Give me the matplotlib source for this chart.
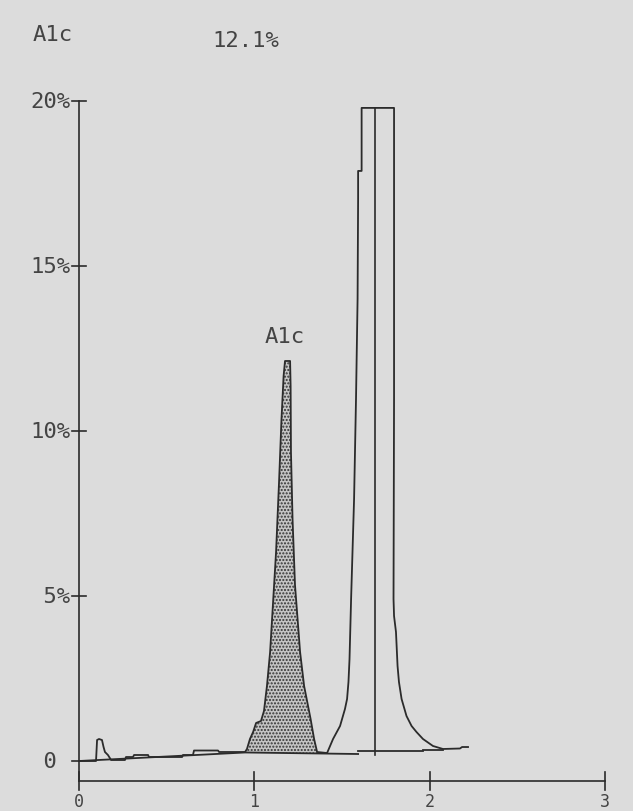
import matplotlib
matplotlib.use("Agg")
import matplotlib.pyplot as plt
import numpy as np

# Chromatogram: time (min) vs percent of full scale
sig_t = np.array([0.0, 0.097, 0.103, 0.114, 0.131, 0.140, 0.148, 0.165, 0.183, 0.262,
                  0.268, 0.308, 0.314, 0.394, 0.399, 0.588, 0.593, 0.650, 0.656, 0.793,
                  0.799, 0.947, 0.958, 0.975, 0.993, 1.010, 1.038, 1.055, 1.072, 1.090,
                  1.107, 1.124, 1.132, 1.141, 1.155, 1.167, 1.175, 1.204, 1.207, 1.209,
                  1.218, 1.232, 1.261, 1.284, 1.321, 1.341, 1.358, 1.415, 1.449, 1.489,
                  1.517, 1.529, 1.537, 1.543, 1.552, 1.569, 1.580, 1.589, 1.592, 1.592,
                  1.612, 1.612, 1.797, 1.797, 1.794, 1.797, 1.808, 1.817, 1.825, 1.840,
                  1.868, 1.897, 1.925, 1.962, 2.019, 2.076, 2.173, 2.185, 2.219])
sig_pct = np.array([0.0, 0.0, 0.636, 0.667, 0.636, 0.424, 0.273, 0.182, 0.03, 0.03,
                    0.121, 0.121, 0.182, 0.182, 0.121, 0.121, 0.182, 0.182, 0.318, 0.318,
                    0.273, 0.273, 0.364, 0.667, 0.879, 1.152, 1.212, 1.515, 2.273, 3.303,
                    4.818, 6.333, 7.333, 8.455, 10.364, 11.667, 12.121, 12.121, 11.364, 9.364,
                    7.333, 5.333, 3.303, 2.273, 1.273, 0.667, 0.273, 0.242, 0.667, 1.061,
                    1.576, 1.879, 2.394, 3.091, 4.909, 7.939, 10.970, 14.0, 17.03, 17.88,
                    17.88, 19.79, 19.79, 11.0, 4.909, 4.394, 3.909, 2.879, 2.394, 1.879,
                    1.364, 1.061, 0.879, 0.667, 0.455, 0.364, 0.379, 0.424, 0.424])

# integration baseline segments
base_t = [[0.0, 0.947, 1.592], [1.592, 1.962], [1.962, 2.076]]
base_pct = [[0.0, 0.258, 0.212], [0.288, 0.288], [0.348, 0.348]]

a1c_start, a1c_end = 0.947, 1.358   # shaded A1c peak
marker_t = 1.69                     # retention marker of main peak
marker_pct = [0.18, 19.79]

yticks = [0, 5, 10, 15, 20]
ytick_labels = [" 0", " 5%", "10%", "15%", "20%"]
xticks = [0, 1, 2, 3]
xtick_labels = ["0", "1", "2", "3"]
xaxis_pct = -0.6

ink = '#2b2b2b'
txt = '#444444'
mono = 'DejaVu Sans Mono'

fig = plt.figure(figsize=(6.33, 8.12), dpi=100, facecolor='#dcdcdc')
ax = fig.add_axes([0, 0, 1, 1])
ax.set_facecolor('#dcdcdc')
ax.set_xlim(-0.4507, 3.160)
ax.set_ylim(-1.515, 23.09)
ax.axis('off')

# axes as printed
ax.plot([0, 0], [xaxis_pct, yticks[-1]], color=ink, lw=1.2)
ax.plot([xticks[0], xticks[-1]], [xaxis_pct, xaxis_pct], color=ink, lw=1.2)
for v, lab in zip(yticks, ytick_labels):
    ax.plot([-0.04, 0.0 if v == 0 else 0.04], [v, v], color=ink, lw=1.2)
    ax.text(-0.28, v, lab, family=mono, fontsize=16, color=txt, ha='left', va='center')
for v, lab in zip(xticks, xtick_labels):
    ax.plot([v, v], [xaxis_pct - 0.27, xaxis_pct + 0.27], color=ink, lw=1.2)
    ax.text(v, -0.93, lab, family=mono, fontsize=12, color=txt, ha='center', va='top')

# chromatogram trace
ax.plot(sig_t, sig_pct, color=ink, lw=1.3)
for bt, bp in zip(base_t, base_pct):
    ax.plot(bt, bp, color=ink, lw=1.3)
ax.plot([marker_t, marker_t], marker_pct, color=ink, lw=1.2)

# stippled A1c area
m = (sig_t >= a1c_start) & (sig_t <= a1c_end)
base_under = np.interp(sig_t[m], base_t[0], base_pct[0])
ax.fill_between(sig_t[m], base_under, sig_pct[m], facecolor='#c4c4c4',
                edgecolor='#333333', hatch='.....', linewidth=0)

# labels
ax.text(-0.262, 22.03, "A1c", family=mono, fontsize=16, color=txt, ha='left', va='center')
ax.text(0.759, 21.85, "12.1%", family=mono, fontsize=16, color=txt, ha='left', va='center')
ax.text(1.175, 12.88, "A1c", family=mono, fontsize=16, color=txt, ha='center', va='center')

plt.savefig('out.png', dpi=100, facecolor=fig.get_facecolor())
